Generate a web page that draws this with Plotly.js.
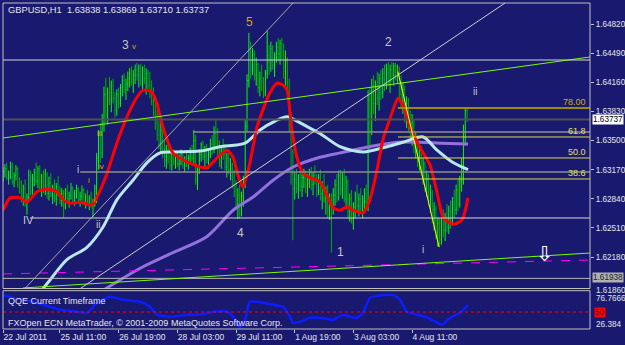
<!DOCTYPE html>
<html><head><meta charset="utf-8">
<script src="https://cdn.plot.ly/plotly-3.0.1.min.js"></script>
<style>html,body{margin:0;padding:0;background:#191970;}#chart{width:625px;height:345px;}</style>
</head><body><div id="chart"></div>
<script>
// ---- OHLC in pips above 1.6000 (e.g. 318 -> 1.6318), hourly bars ----
const barOpen = [
310,315,318,308,312,322,304,310,318,300,
295,284,296,280,286,310,292,306,314,304,
318,296,308,294,312,290,302,290,296,284,
298,292,282,290,278,290,284,288,296,282,
290,294,283,287,294,280,286,279,284,277,
281,296,330,355,336,374,402,380,404,396,
412,398,384,402,392,410,418,408,414,420,
426,416,424,430,424,432,416,428,420,426,
412,404,396,382,370,356,346,362,336,328,
340,330,322,334,326,332,324,330,336,322,
328,324,330,338,330,350,306,316,334,340,
332,338,328,336,346,340,358,346,338,326,
340,334,320,330,316,322,300,292,278,288,
270,286,302,366,418,452,430,448,424,436,
410,420,414,404,426,446,432,454,436,444,
456,448,460,446,428,440,408,366,312,296,
306,296,308,298,308,312,298,306,314,300,
310,304,292,308,290,298,284,292,270,284,
276,288,300,286,310,294,306,284,302,270,
284,262,274,286,276,284,272,280,290,280,
396,360,412,392,410,398,420,404,426,414,
432,418,430,424,434,422,428,402,394,408,
376,392,366,356,370,342,350,326,340,314,
322,296,306,282,290,262,272,246,256,238,
254,248,262,252,270,258,280,272,294,278,
304,322,360,383.8];
const barHigh = [
320,323,325,316,326,325,314,322,320,308,
305,300,306,290,317,316,312,318,325,321,
322,312,316,318,314,309,313,300,306,302,
310,298,296,294,296,300,292,302,298,294,
300,297,292,299,296,290,294,288,292,284,
300,336,362,370,380,411,421,410,422,418,
420,405,408,410,414,424,426,420,428,432,
434,430,436,438,436,437,434,436,432,430,
428,418,410,395,385,372,370,368,350,345,
352,342,338,340,336,338,334,340,338,332,
336,334,342,345,362,356,320,340,348,350,
344,346,340,352,356,366,373,364,350,344,
352,346,336,340,330,325,317,305,296,300,
292,310,373,425,472,462,455,452,444,438,
428,436,422,430,474,458,462,458,450,462,
466,464,466,460,452,444,420,380,340,314,
318,312,316,312,318,316,312,318,320,314,
322,312,312,317,304,312,298,300,290,290,
296,306,312,316,317,314,318,310,306,290,
294,280,292,300,290,296,288,296,300,407,
410,420,424,418,428,426,430,432,436,437,
439,436,439,438,438,436,434,424,416,412,
400,398,384,380,374,360,356,348,344,330,
326,316,312,300,294,280,276,262,262,262,
272,268,278,276,282,286,294,300,306,310,
330,368,388,386.9];
const barLow = [
303,308,305,300,306,300,297,305,296,290,
280,276,275,266,282,288,287,298,300,296,
292,286,290,288,284,282,286,278,280,276,
286,278,275,262,272,280,274,283,278,276,
284,279,275,282,277,273,276,271,274,263,
275,279,317,325,330,360,370,368,390,382,
392,376,378,386,388,400,404,396,406,410,
412,404,414,418,410,412,405,414,402,408,
398,390,378,362,350,340,336,330,320,318,
324,317,316,322,318,320,316,322,318,315,
320,317,325,326,322,300,294,312,326,328,
320,324,318,330,334,336,340,332,320,318,
328,316,308,312,305,296,286,272,261,262,
264,275,296,360,410,420,424,418,412,404,
400,406,398,400,420,424,428,430,422,438,
440,436,442,420,412,400,360,300,237,283,
290,284,292,286,296,290,286,296,294,288,
300,286,288,282,272,280,266,262,260,223,
266,276,280,282,288,284,280,272,262,258,
256,249,262,270,264,268,262,270,274,270,
340,356,380,372,390,384,396,398,406,408,
412,404,416,412,418,414,396,386,380,370,
364,360,350,344,336,330,320,316,310,300,
292,286,276,268,256,248,238,230,229,232,
240,236,246,244,250,254,262,266,270,274,
292,300,344,371.0];
const barClose = [
315,318,308,312,322,304,310,318,300,295,
284,296,280,286,310,292,306,314,304,318,
296,308,294,312,290,302,290,296,284,298,
292,282,290,278,290,284,288,296,282,290,
294,283,287,294,280,286,279,284,277,281,
296,330,355,336,374,402,380,404,396,412,
398,384,402,392,410,418,408,414,420,426,
416,424,430,424,432,416,428,420,426,412,
404,396,382,370,356,346,362,336,328,340,
330,322,334,326,332,324,330,336,322,328,
324,330,338,330,350,306,316,334,340,332,
338,328,336,346,340,358,346,338,326,340,
334,320,330,316,322,300,292,278,288,270,
286,302,366,418,452,430,448,424,436,410,
420,414,404,426,446,432,454,436,444,456,
448,460,446,428,440,408,366,312,296,306,
296,308,298,308,312,298,306,314,300,310,
304,292,308,290,298,284,292,270,284,276,
288,300,286,310,294,306,284,302,270,284,
262,274,286,276,284,272,280,290,280,396,
360,412,392,410,398,420,404,426,414,432,
418,430,424,434,422,428,402,394,408,376,
392,366,356,370,342,350,326,340,314,322,
296,306,282,290,262,272,246,256,238,254,
248,262,252,270,258,280,272,294,278,304,
322,360,383.8,373.7];

// ---- moving averages: [bar index, pips] ----
const maRed = [[0,271],[3.8,285],[9.2,285],[13,280],[18.5,292],[24,295],[29.4,292],[32.7,283],[36.5,279],[42,280],[48.5,277],[51.2,286],[56.7,313],[62,347],[67.6,377],[73,399],[76.3,407],[81,405],[83.9,392],[85.6,377],[89.4,351],[92.6,336],[100,326],[107.4,320],[111,319],[116.6,330],[122,339],[125.4,331],[128,311],[130.8,297],[134.6,325],[138.4,365],[141.7,385],[145.5,404],[149.3,415],[152.6,413],[154.8,407],[157.5,362],[160.2,331],[163.5,313],[167.3,308],[172.8,303],[176.6,288],[179.9,274],[183.7,271],[187.5,275],[190.8,271],[196.2,268],[200,283],[203.9,317],[207.1,351],[211,375],[215.3,398],[218.6,387],[221.9,365],[227.3,342],[232.8,322],[236.6,291],[239.9,263],[245.3,255],[250.2,260],[253.5,285]];
const maCyan = [[20.1,178],[25.6,192],[34.8,215],[45.7,229],[54.5,252],[62.1,283],[70.8,305],[78.5,325],[85.6,336],[92.6,337],[107.4,338],[118.3,343],[131.9,347],[140.1,362],[148.3,372],[154.8,377],[162,370],[167.3,364],[172.8,358],[183.7,343],[196.2,337],[209.3,343],[218,348],[229,354],[236.6,339],[245.3,325],[253.5,317]];
const maPurple = [[52.8,178],[63.7,192],[76.3,207],[92.6,223],[111,241],[125.4,271],[136.3,286],[147.2,305],[158.1,320],[172.8,331],[183.7,336],[200,343],[214.8,348],[227.3,348],[238.2,347],[253.5,346]];

// ---- QQE oscillator: [bar index, value] ----
const qqe = [[0,83.4],[5.4,77.6],[16.3,69.9],[25.6,60.2],[31,54.4],[40.3,50.6],[45.7,48.6],[51.2,67.9],[58.3,79.5],[65.4,73.7],[74.6,69.9],[80.1,60.2],[83.9,44.8],[92.6,40.9],[100.3,44.8],[107.4,44.8],[114.5,50.6],[122,50.6],[125.4,40.9],[129.2,19.7],[131.9,35.1],[134.6,69.9],[138.4,69.9],[141.7,67.9],[147.2,64.1],[152.6,60.2],[156.4,40.9],[158.1,29.3],[162,31.3],[167.3,39],[172.8,39],[179.9,35.1],[185.3,44.8],[189.2,40.9],[193,39],[196.2,48.6],[200,77.6],[203.9,81.5],[212.6,83.4],[216.4,73.7],[220.2,50.6],[225.7,44.8],[231.1,39],[236.6,29.3],[239.3,25.5],[243.7,39],[249.2,48.6],[253.5,64.1]];
const qqeLevel = 50;

// ---- objects (prices) ----
const whiteLevels = [1.64412, 1.62622];
const whiteStarts = [-0.05, 14.7];
const grayLevels = [1.63596, 1.63143];
const grayStarts = [103.5, 42];
const bidPrice = 1.63737;
const lowLine = 1.61938;
const fibLevels = [1.63868, 1.63540, 1.63302, 1.63064];
const fibLabels = ["78.00", "61.8", "50.0", "38.6"];
const fibStart = 215.3;
const greenLines = [[0,1.63528,320,1.64446],[10.8,1.61829,320,1.62225]];
const grayDiagonals = [[11.9,1.61823,158.1,1.65058],[42.1,1.61823,273.7,1.65058]];
const magentaLine = [0,1.61988,320,1.62146];
const zigzag = [215.3,1.64276,237.7,1.62293];

// ---- axis labels ----
const timeTicks = [0,31,63,95,127,159,191,223];
const timeLabels = ["22 Jul 2011","25 Jul 11:00","26 Jul 19:00","28 Jul 03:00","29 Jul 11:00","1 Aug 19:00","3 Aug 03:00","4 Aug 11:00"];
const priceTicks = [1.6482,1.6449,1.6416,1.6383,1.6350,1.6317,1.6284,1.6251,1.6218];

// ---- wave labels: [text, bar index, price] ----
const waveLabels = [["3",66.5,1.64582],["2",210.4,1.64616],["ii",257.3,1.6405],["IV",13.6,1.6260],["i",40.8,1.63177],["ii",51.7,1.62554],["4",129.2,1.62452],["1",184.2,1.62237],["i",229,1.6226]];
const smallLabels = [["v",71.4,1.6456],["iii",52.8,1.63574],["iv",53.4,1.6320],["i",46.8,1.6305],["i",50.1,1.62826]];
const fiveLabel = ["5",134.6,1.64843];
const arrowMark = [295.5,1.62215];

const P = p => +(1.6 + p/10000).toFixed(5);
const idx = barOpen.map((_, i) => i);
const FONT = "Liberation Sans, Arial, sans-serif";
const TXT = "#E6E6E6";
const AX = 8.2;

const traces = [
  {type:"ohlc", x:idx, open:barOpen.map(P), high:barHigh.map(P), low:barLow.map(P), close:barClose.map(P),
   increasing:{line:{color:"#00FF00", width:1}}, decreasing:{line:{color:"#00B000", width:1}},
   tickwidth:0.3, xaxis:"x", yaxis:"y", hoverinfo:"skip"},
  {type:"scatter", mode:"lines", x:maPurple.map(d=>d[0]), y:maPurple.map(d=>P(d[1])),
   line:{color:"#9370DB", width:3, shape:"spline", smoothing:0.8}, xaxis:"x", yaxis:"y", hoverinfo:"skip"},
  {type:"scatter", mode:"lines", x:maCyan.map(d=>d[0]), y:maCyan.map(d=>P(d[1])),
   line:{color:"#B8E8EC", width:3, shape:"spline", smoothing:0.8}, xaxis:"x", yaxis:"y", hoverinfo:"skip"},
  {type:"scatter", mode:"lines", x:maRed.map(d=>d[0]), y:maRed.map(d=>P(d[1])),
   line:{color:"#FF0000", width:3, shape:"spline", smoothing:0.6}, xaxis:"x", yaxis:"y", hoverinfo:"skip"},
  {type:"scatter", mode:"lines", x:qqe.map(d=>d[0]), y:qqe.map(d=>d[1]),
   line:{color:"#0A1EFF", width:2.5, shape:"spline", smoothing:0.6}, xaxis:"x", yaxis:"y2", hoverinfo:"skip"}
];

const shapes = [];
const ln = (x0,y0,x1,y1,color,width,dash) => shapes.push({type:"line", xref:"x", yref:"y", x0, y0, x1, y1, line:{color, width, dash:dash||"solid"}, layer:"above"});
ln(-0.05,lowLine,320,lowLine,"#B8B8B8",1);
grayLevels.forEach((v,k)=>ln(grayStarts[k],v,320,v,"#8C8C8C",1.5));
ln(-0.05,bidPrice,320,bidPrice,"#505050",2);
whiteLevels.forEach((v,k)=>ln(whiteStarts[k],v,320,v,"#D8D8D8",1));
fibLevels.forEach((v,k)=>ln(fibStart,v,320,v,k===0?"#9C8A00":"#D8D848",k===0?2:1));
ln(magentaLine[0],magentaLine[1],magentaLine[2],magentaLine[3],"#FF00FF",1,"dash");
greenLines.forEach(g=>ln(g[0],g[1],g[2],g[3],"#7CFC00",1));
ln(grayDiagonals[0][0],grayDiagonals[0][1],grayDiagonals[0][2],grayDiagonals[0][3],"#A8A8A8",1);
ln(grayDiagonals[1][0],grayDiagonals[1][1],grayDiagonals[1][2],grayDiagonals[1][3],"#D0D0D0",1);
ln(zigzag[0],zigzag[1],zigzag[2],zigzag[3],"#FFFF00",1);
shapes.push({type:"line", xref:"paper", yref:"y2", x0:0, x1:1, y0:qqeLevel, y1:qqeLevel, line:{color:"#FF0000", width:1, dash:"dot"}});
shapes.push({type:"rect", xref:"paper", yref:"paper", x0:0, x1:1, y0:0.1242, y1:1, line:{color:"#C0C0C0", width:1}});
shapes.push({type:"rect", xref:"paper", yref:"paper", x0:0, x1:1, y0:0, y1:0.1175, line:{color:"#C0C0C0", width:1}});

const fx = x => (x-3)/587, fy = y => (329-y)/326;
const ann = [];
ann.push({text:"GBPUSD,H1  1.63838 1.63869 1.63710 1.63737", xref:"paper", yref:"paper", x:fx(6), y:fy(10), xanchor:"left", yanchor:"middle", showarrow:false, font:{family:FONT, size:9.3, color:TXT}});
ann.push({text:"QQE Current Timeframe", xref:"paper", yref:"paper", x:fx(6), y:fy(301), xanchor:"left", yanchor:"middle", showarrow:false, font:{family:FONT, size:9, color:TXT}});
ann.push({text:"FXOpen ECN MetaTrader, © 2001-2009 MetaQuotes Software Corp.", xref:"paper", yref:"paper", x:fx(6), y:fy(322.5), xanchor:"left", yanchor:"middle", showarrow:false, font:{family:FONT, size:9, color:TXT}});
waveLabels.forEach(w=>{
  const big = /^[0-9]$/.test(w[0]);
  ann.push({text:w[0], x:w[1], y:w[2], xref:"x", yref:"y", showarrow:false, xanchor:"center", yanchor:"middle", font:{family:FONT, size:big?12:(w[0]==="IV"?11:10), color:"#C8C8C8"}});
});
smallLabels.forEach(w=>ann.push({text:w[0], x:w[1], y:w[2], xref:"x", yref:"y", showarrow:false, font:{family:FONT, size:8, color:"#C8B400"}}));
ann.push({text:fiveLabel[0], x:fiveLabel[1], y:fiveLabel[2], xref:"x", yref:"y", showarrow:false, font:{family:FONT, size:12, color:"#D8A020"}});
ann.push({text:"⇩", x:arrowMark[0], y:arrowMark[1], xref:"x", yref:"y", showarrow:false, font:{family:"DejaVu Sans", size:21, color:"#FFFFFF"}});
fibLevels.forEach((v,k)=>ann.push({text:fibLabels[k], x:1, xshift:-2, y:v, xref:"paper", yref:"y", xanchor:"right", yanchor:"bottom", yshift:-1, showarrow:false, font:{family:FONT, size:9, color:k===0?"#C8B400":"#E0E060"}}));
ann.push({text:"1.63737", x:1, xshift:2, y:bidPrice, xref:"paper", yref:"y", xanchor:"left", yanchor:"middle", showarrow:false, bgcolor:"#FFFFFF", borderpad:0, font:{family:FONT, size:AX, color:"#000000"}});
ann.push({text:"1.61938", x:1, xshift:2, y:lowLine, xref:"paper", yref:"y", xanchor:"left", yanchor:"middle", yshift:1, showarrow:false, bgcolor:"#B0B0B0", borderpad:0, font:{family:FONT, size:AX, color:"#202020"}});
ann.push({text:"1.61860", x:1, xshift:4, y:1.61860, xref:"paper", yref:"y", xanchor:"left", yanchor:"top", yshift:1, showarrow:false, font:{family:FONT, size:AX, color:TXT}});
ann.push({text:"76.7666", x:1, xshift:4, y:76.77, xref:"paper", yref:"y2", xanchor:"left", yanchor:"middle", showarrow:false, font:{family:FONT, size:AX, color:TXT}});
ann.push({text:"50", x:1, xshift:4, y:50, xref:"paper", yref:"y2", xanchor:"left", yanchor:"middle", showarrow:false, bgcolor:"#FF0000", borderpad:0, font:{family:FONT, size:AX, color:"#700000"}});
ann.push({text:"26.384", x:1, xshift:4, y:26.384, xref:"paper", yref:"y2", xanchor:"left", yanchor:"middle", showarrow:false, font:{family:FONT, size:AX, color:TXT}});

const layout = {
  width:625, height:345, margin:{l:3, r:35, t:3, b:16},
  paper_bgcolor:"#191970", plot_bgcolor:"#191970", showlegend:false, hovermode:false,
  xaxis:{range:[-0.05,320], anchor:"y2", rangeslider:{visible:false}, showgrid:false, zeroline:false,
         tickmode:"array", tickvals:timeTicks, ticktext:timeLabels, ticks:"outside", ticklen:3, tickcolor:"#C0C0C0",
         ticklabelposition:"outside right", tickfont:{family:FONT, size:8.5, color:TXT}, showline:false, fixedrange:true},
  yaxis:{domain:[0.1242,1], range:[1.61823,1.65058], side:"right", anchor:"x", showgrid:false, zeroline:false,
         tickmode:"array", tickvals:priceTicks, ticktext:priceTicks.map(v=>v.toFixed(5)), ticks:"outside", ticklen:3,
         tickcolor:"#C0C0C0", tickfont:{family:FONT, size:AX, color:TXT}, showline:false},
  yaxis2:{domain:[0,0.1175], range:[17,91.5], anchor:"x", showgrid:false, zeroline:false, showticklabels:false, ticks:""},
  shapes:shapes, annotations:ann
};
Plotly.newPlot("chart", traces, layout, {staticPlot:true, displayModeBar:false});
</script></body></html>
